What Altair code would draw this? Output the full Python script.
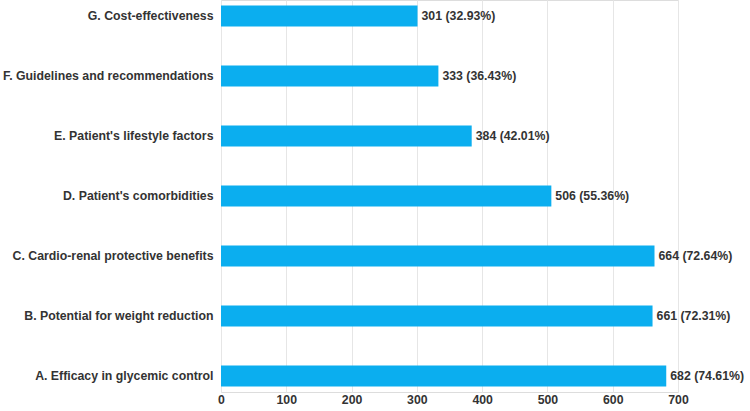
import altair as alt
import pandas as pd

categories = [
    "G. Cost-effectiveness",
    "F. Guidelines and recommendations",
    "E. Patient's lifestyle factors",
    "D. Patient's comorbidities",
    "C. Cardio-renal protective benefits",
    "B. Potential for weight reduction",
    "A. Efficacy in glycemic control",
]
counts = [301, 333, 384, 506, 664, 661, 682]
percents = ["32.93%", "36.43%", "42.01%", "55.36%", "72.64%", "72.31%", "74.61%"]

df = pd.DataFrame({"cat": categories, "n": counts, "pct": percents})
df["label"] = df["n"].astype(str) + " (" + df["pct"] + ")"

FONT = "Liberation Sans"
FS = 12.3

y = alt.Y("cat:N", sort=categories, title=None,
          scale=alt.Scale(paddingInner=0.65, paddingOuter=0.09),
          axis=alt.Axis(labelFontSize=FS, labelFont=FONT, labelFontWeight="bold",
                        labelColor="#333333", ticks=False, domain=False,
                        labelPadding=8, labelLimit=300))
x = alt.X("n:Q", title=None,
          scale=alt.Scale(domain=[0, 700], nice=False),
          axis=alt.Axis(values=[0, 100, 200, 300, 400, 500, 600, 700],
                        labelFontSize=FS, labelFont=FONT, labelFontWeight="bold",
                        labelColor="#333333", ticks=False, domain=False,
                        labelFlush=False,
                        grid=True, gridColor="#e6e6e6", labelPadding=1))

bars = alt.Chart(df).mark_bar(color="#0BAEEF").encode(x=x, y=y)
text = alt.Chart(df).mark_text(align="left", dx=4, font=FONT, fontSize=FS,
                               fontWeight="bold", color="#333333").encode(
    x="n:Q", y=alt.Y("cat:N", sort=categories), text="label:N")

chart = (bars + text).properties(
    width=457, height=392,
    autosize=alt.AutoSizeParams(type="none"),
    padding={"left": 221, "top": 0, "right": 72, "bottom": 19},
).configure_view(stroke=None).configure(background="white")

chart.save("out.html", embed_options={"renderer": "svg", "actions": False})
